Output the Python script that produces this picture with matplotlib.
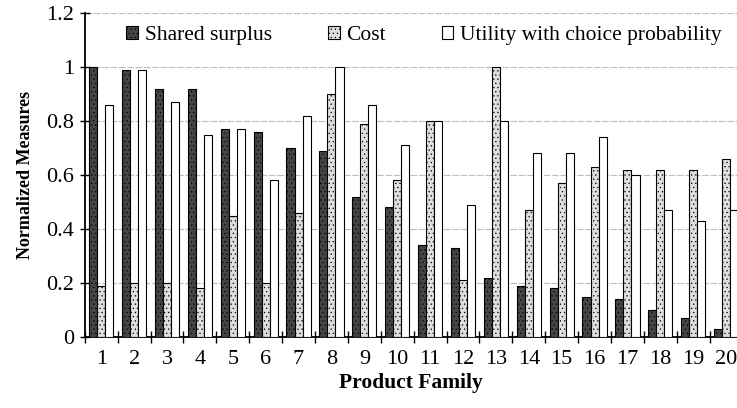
import matplotlib.pyplot as plt
import numpy as np

families = [str(i) for i in range(1, 21)]
shared_surplus = [1.00, 0.99, 0.92, 0.92, 0.77, 0.76, 0.70, 0.69, 0.52, 0.48,
                  0.34, 0.33, 0.22, 0.19, 0.18, 0.15, 0.14, 0.10, 0.07, 0.03]
cost = [0.19, 0.20, 0.20, 0.18, 0.45, 0.20, 0.46, 0.90, 0.79, 0.58,
        0.80, 0.21, 1.00, 0.47, 0.57, 0.63, 0.62, 0.62, 0.62, 0.66]
utility = [0.86, 0.99, 0.87, 0.75, 0.77, 0.58, 0.82, 1.00, 0.86, 0.71,
           0.80, 0.49, 0.80, 0.68, 0.68, 0.74, 0.60, 0.47, 0.43, 0.47]

plt.rcParams['font.family'] = ['Liberation Serif', 'DejaVu Serif']
plt.rcParams['hatch.color'] = '#808080'
plt.rcParams['hatch.linewidth'] = 0.4

fig = plt.figure(figsize=(7.37, 4.08), dpi=100)
ax = fig.add_axes([0.115, 0.174, 0.885, 0.794])

x = np.arange(1, len(families) + 1)
w = 0.245
ax.bar(x - w, shared_surplus, w, color='#454545', edgecolor='black', linewidth=0.8,
       hatch='....', label='Shared surplus', zorder=3)
ax.bar(x, cost, w, color='#dedede', edgecolor='black', linewidth=0.8,
       hatch='....', label='Cost', zorder=3)
ax.bar(x + w, utility, w, color='white', edgecolor='black', linewidth=0.8,
       label='Utility with choice probability', zorder=3)

ax.set_xlim(0.5, 20.33)
ax.set_ylim(0, 1.2)
ax.set_yticks([0, 0.2, 0.4, 0.6, 0.8, 1.0, 1.2])
ax.set_yticklabels(['0', '0.2', '0.4', '0.6', '0.8', '1', '1.2'], fontsize=16)
ax.set_xticks(x)
ax.set_xticklabels(families, fontsize=16)
ax.set_xticks(np.arange(0.5, 20.5, 1), minor=True)
ax.tick_params(axis='x', which='major', length=0, pad=9)
ax.tick_params(axis='x', which='minor', length=8, direction='inout', width=1)
ax.tick_params(axis='y', length=7, width=1, direction='inout', pad=4)

ax.grid(axis='y', color='#bdbdbd', linestyle=(0, (6, 1.5)), linewidth=0.8, zorder=0)
for s in ['top', 'right']:
    ax.spines[s].set_visible(False)
ax.spines['left'].set_linewidth(1.3)
ax.spines['bottom'].set_linewidth(1.3)

ax.set_ylabel('Normalized Measures', fontsize=13, fontweight='bold', labelpad=9)
ax.set_xlabel('Product Family', fontsize=15.5, fontweight='bold', labelpad=3)

ax.legend(loc='upper center', bbox_to_anchor=(0.52, 1.0), ncol=3, frameon=False,
          fontsize=15.5, handlelength=0.55, handleheight=0.55, handletextpad=0.3,
          columnspacing=2.6, borderaxespad=0.2)

fig.savefig('out.png', dpi=100)
